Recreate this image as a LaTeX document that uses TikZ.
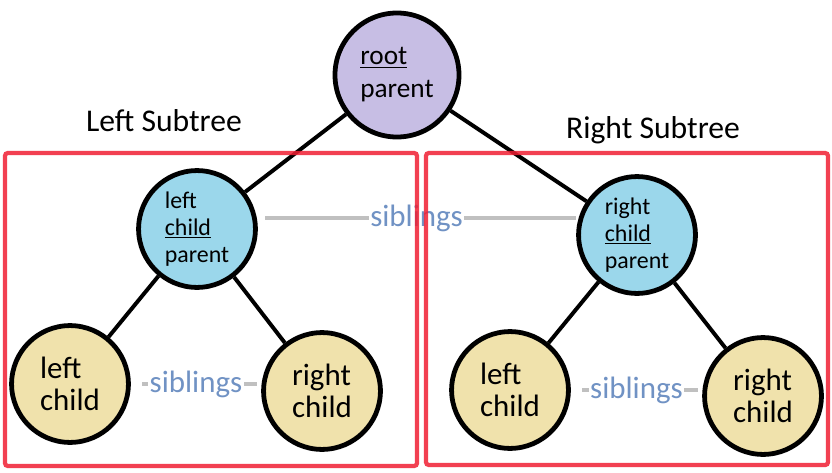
\documentclass[tikz,border=0pt]{standalone}
\usepackage{fontspec}
\setmainfont{Carlito}
\usepackage{tikz}
\usetikzlibrary{positioning}
\definecolor{rootfill}{RGB}{199,190,228}
\definecolor{innerfill}{RGB}{155,215,235}
\definecolor{leaffill}{RGB}{240,226,172}
\definecolor{sibgray}{RGB}{192,192,192}
\definecolor{sibblue}{RGB}{112,146,196}
\definecolor{boxred}{RGB}{240,30,50}
\tikzset{main node/.style={circle,draw,line width=3.4pt,inner sep=0pt,align=left},
         root node/.style={main node,fill=rootfill,minimum size=3.1cm,font=\fontsize{19.4}{23.4}\selectfont},
         inner node/.style={main node,fill=innerfill,minimum size=2.92cm,font=\fontsize{17}{19.2}\selectfont},
         leaf node/.style={main node,fill=leaffill,minimum size=2.92cm,font=\fontsize{22}{23}\selectfont},
         sib line/.style={draw=sibgray,line width=2.8pt},
         sib text/.style={fill=white,inner sep=1pt,text=sibblue,font=\fontsize{22}{24}\selectfont},
         subtree/.style={draw=boxred,line width=3pt,opacity=0.85,rounded corners=2pt},
         subtree label/.style={font=\fontsize{22.5}{24}\selectfont},
            }
\begin{document}
\begin{tikzpicture}[x=0.025cm,y=-0.025cm]
        \useasboundingbox (0,0) rectangle (832,472);
        \node[root node] (1) at (397,75) {\underline{root}\\parent};
        \node[inner node] (2) at (197,229) {left\\\underline{child}\\parent};
        \node[inner node] (3) at (637,235) {right\\\underline{child}\\parent};
        \node[leaf node] (4) at (70,384) {left\\child};
        \node[leaf node] (5) at (322,391) {right\\child};
        \node[leaf node] (6) at (510,390) {left\\child};
        \node[leaf node] (7) at (763,396) {right\\child};

        \path[draw,line width=2.8pt]
        (1) edge node {} (2)
        (1) edge node {} (3)
        (2) edge node {} (4)
        (2) edge node {} (5)
        (3) edge node {} (6)
        (3) edge node {} (7);

        \draw[sib line,shorten <=6pt] (2.10) -- node[sib text] {siblings} (2.10 -| 3.west);
        \draw[sib line,shorten <=8pt,shorten >=3pt] (4.east) -- node[sib text] {siblings} (4.east -| 5.west);
        \draw[sib line,shorten <=8pt,shorten >=3pt] (6.east) -- node[sib text] {siblings} (6.east -| 7.west);

        \node[subtree label] (ls) at (164,121) {Left Subtree};
        \node[subtree label] (rs) at (653,130) {Right Subtree};

        \draw[subtree] (5,153) rectangle (417,466);
        \draw[subtree] (426,153) rectangle (828,465);
      \end{tikzpicture}
\end{document}
